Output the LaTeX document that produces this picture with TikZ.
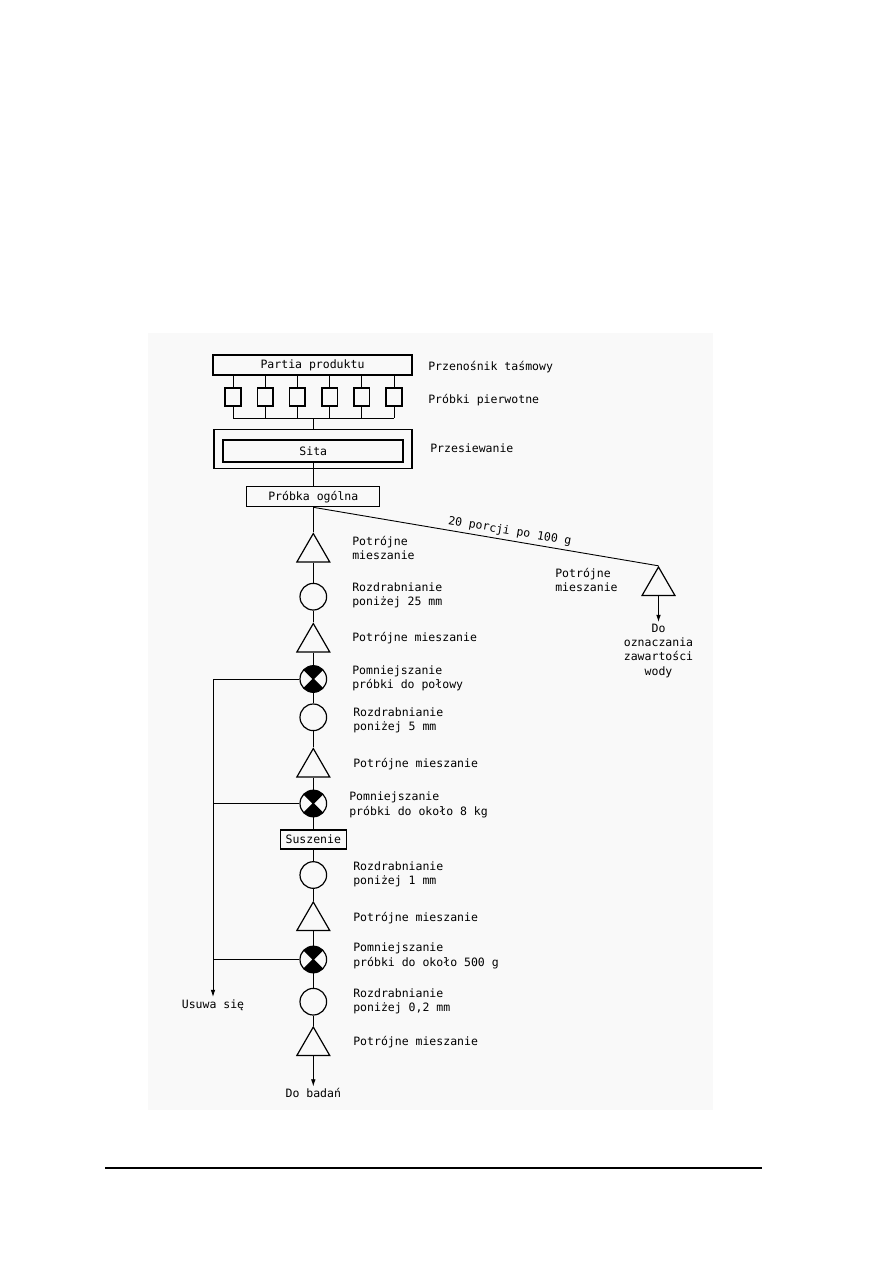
\documentclass[tikz,border=0pt]{standalone}
\usepackage{fontspec}
\usetikzlibrary{shapes.geometric,arrows.meta,positioning,calc}
\newfontfamily\diagfont{DejaVu Sans Mono}
\definecolor{scanbg}{RGB}{249,249,249}
\def\pu{0.2352mm}

\begin{document}
\begin{tikzpicture}[
    x=0.2352mm, y=-0.2352mm,
    every node/.style={font=\diagfont\fontsize{7.7}{9.6}\selectfont},
    box/.style={rectangle, draw, line width=0.8pt, inner sep=0pt},
    smpl/.style={rectangle, draw, line width=1.1pt, inner sep=0pt,
                 minimum width=15.5*\pu, minimum height=18*\pu},
    mix/.style={regular polygon, regular polygon sides=3, draw, line width=0.8pt,
                minimum size=38*\pu, inner sep=0pt},
    grind/.style={circle, draw, line width=0.8pt, minimum size=26.6*\pu, inner sep=0pt},
    split/.style={grind, path picture={
        \fill (path picture bounding box.center) -- (path picture bounding box.north west)
              -- (path picture bounding box.north east) -- cycle;
        \fill (path picture bounding box.center) -- (path picture bounding box.south west)
              -- (path picture bounding box.south east) -- cycle;
        \draw (path picture bounding box.north west) -- (path picture bounding box.south east)
              (path picture bounding box.south west) -- (path picture bounding box.north east);}},
    txt/.style={anchor=west, align=left, inner sep=0pt},
    ln/.style={line width=0.6pt},
    arr/.style={-{Latex[length=1.7mm, width=1.1mm]}, line width=0.6pt}
]

\useasboundingbox (0,0) rectangle (893,1263);
\fill[scanbg] (148,333) rectangle (713,1110);

% top: conveyor, primary samples, sieves
\node[box, minimum width=199*\pu, minimum height=20*\pu] (partia) at (312.5,365) {Partia produktu};
\node[txt] (ltasm) at (428,367) {Przenośnik taśmowy};

\foreach \i in {0,...,5}
  \node[smpl] (s\i) at ({233+32.2*\i},397) {};
\node[txt] (lpierw) at (428,400) {Próbki pierwotne};

\coordinate (coll) at (313,418);

\node[box, minimum width=198*\pu, minimum height=39*\pu] (przes) at (313,449) {};
\node[box, line width=1.3pt, minimum width=180*\pu, minimum height=22*\pu] (sita) at (313.3,451) {Sita};
\node[txt] (lprzes) at (430,448) {Przesiewanie};

\node[box, minimum width=133*\pu, minimum height=20*\pu] (probka) at (313.3,496.7) {Próbka ogólna};

\foreach \i in {0,...,5} {
  \draw[ln] (s\i.north) -- (s\i.north |- partia.south);
  \draw[ln] (s\i.south) -- (s\i.south |- coll);
}
\draw[ln] (s0.south |- coll) -- (s5.south |- coll);
\draw[ln] (coll) -- (przes.north);
\draw[ln] (sita.south) -- (probka.north);

% main line
\node[mix]   (t1) at (313.3,552.5) {};
\node[grind] (c1) at (313.3,596.7) {};
\node[mix]   (t2) at (313.3,642.5) {};
\node[split] (x1) at (313.3,679) {};
\node[grind] (c2) at (313.3,717.3) {};
\node[mix]   (t3) at (313.3,767.5) {};
\node[split] (x2) at (313.3,803.5) {};
\node[box, minimum width=66*\pu, minimum height=19*\pu] (susz) at (313.3,839.5) {Suszenie};
\node[grind] (c3) at (313.3,875) {};
\node[mix]   (t4) at (313.3,921) {};
\node[split] (x3) at (313.3,959.5) {};
\node[grind] (c4) at (313.3,1001.7) {};
\node[mix]   (t5) at (313.3,1046) {};
\node[inner sep=1pt] (dobad) at (313.3,1093) {Do badań};

\node[txt] (lt1) at (352,548) {Potrójne\\mieszanie};
\node[txt] (lc1) at (352,595) {Rozdrabnianie\\poniżej 25 mm};
\node[txt] (lt2) at (352,638) {Potrójne mieszanie};
\node[txt] (lx1) at (352,678) {Pomniejszanie\\próbki do połowy};
\node[txt] (lc2) at (353,720) {Rozdrabnianie\\poniżej 5 mm};
\node[txt] (lt3) at (353,764) {Potrójne mieszanie};
\node[txt] (lx2) at (349,805) {Pomniejszanie\\próbki do około 8 kg};
\node[txt] (lc3) at (353,874.5) {Rozdrabnianie\\poniżej 1 mm};
\node[txt] (lt4) at (353,917.7) {Potrójne mieszanie};
\node[txt] (lx3) at (353,956) {Pomniejszanie\\próbki do około 500 g};
\node[txt] (lc4) at (353,1001) {Rozdrabnianie\\poniżej 0,2 mm};
\node[txt] (lt5) at (353,1041.7) {Potrójne mieszanie};

\draw[ln] (probka.south) -- (t1.corner 1);
\draw[ln] (t1) -- (c1);
\draw[ln] (c1) -- (t2.corner 1);
\draw[ln] (t2) -- (x1);
\draw[ln] (x1) -- (c2);
\draw[ln] (c2) -- (t3.corner 1);
\draw[ln] (t3) -- (x2);
\draw[ln] (x2) -- (susz);
\draw[ln] (susz) -- (c3);
\draw[ln] (c3) -- (t4.corner 1);
\draw[ln] (t4) -- (x3);
\draw[ln] (x3) -- (c4);
\draw[ln] (c4) -- (t5.corner 1);
\draw[arr] (t5) -- (dobad);

% side branch: water content
\node[mix] (tr) at (658.5,586) {};
\node[txt] (ltr) at (555,580) {Potrójne\\mieszanie};
\node[anchor=north, align=center, inner sep=1pt] (dooz) at (658.5,622)
  {Do\\oznaczania\\zawartości\\wody};
\draw[ln] (probka.south) -- node[pos=0.565, above, sloped, inner sep=2pt] {20 porcji po 100 g} (tr.corner 1);
\draw[arr] (tr) -- (dooz);

% rejected material
\node[inner sep=1.5pt] (usuwa) at (213,1005) {Usuwa się};
\draw[ln] (x1.west) -- (x1.west -| usuwa);
\draw[ln] (x2.west) -- (x2.west -| usuwa);
\draw[ln] (x3.west) -- (x3.west -| usuwa);
\draw[arr] (x1.west -| usuwa) -- (usuwa.north);

% footer rule
\coordinate (rulel) at (105,1168);
\coordinate (ruler) at (762,1168);
\draw[line width=0.8pt] (rulel) -- (ruler);

\end{tikzpicture}
\end{document}
